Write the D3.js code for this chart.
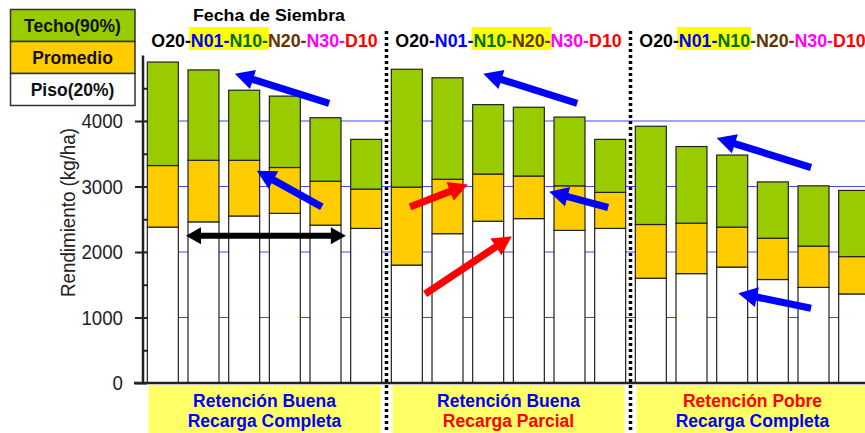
<!DOCTYPE html>
<html>
<head>
<meta charset="utf-8">
<script src="https://cdn.jsdelivr.net/npm/d3@7"></script>
<style>
body { margin: 0; background: #fff; overflow: hidden; }
svg { display: block; font-family: "Liberation Sans", Arial, sans-serif; }
</style>
</head>
<body>
<svg id="chart" width="865" height="433"></svg>
<script>
// fechas de siembra, repeated in the three scenarios
const fechas = ['O20', 'N01', 'N10', 'N20', 'N30', 'D10'];
const fechaColors = ['#000000', '#0000ff', '#007000', '#663300', '#ff00ff', '#ff0000'];

// rendimiento (kg/ha) per bar, 3 groups x 6 dates
const piso = [2380, 2460, 2550, 2590, 2410, 2360,
              1800, 2280, 2470, 2510, 2330, 2360,
              1600, 1670, 1770, 1580, 1460, 1360];
const promedio = [3320, 3400, 3400, 3290, 3080, 2960,
                  2990, 3110, 3190, 3160, 3010, 2910,
                  2420, 2440, 2380, 2210, 2090, 1930];
const techo = [4900, 4780, 4470, 4380, 4050, 3720,
               4790, 4660, 4250, 4210, 4060, 3720,
               3920, 3610, 3480, 3070, 3010, 2940];

const series = ['Techo(90%)', 'Promedio', 'Piso(20%)'];
const seriesColors = ['#99cc00', '#ffcc00', '#ffffff'];

const yTicks = [0, 1000, 2000, 3000, 4000];
const yMinor = [500, 1500, 2500, 3500, 4500];
const gridVals = [1000, 2000, 3000, 4000];

// highlighted dates in the header: [first, last, include trailing dash]
const highlights = [[1, 2, true], [2, 3, true], [1, 2, false]];

const groupLabels = [['Retención Buena', 'Recarga Completa'],
                     ['Retención Buena', 'Recarga Parcial'],
                     ['Retención Pobre', 'Recarga Completa']];
const groupLabelColors = [['#0000ff', '#0000ff'],
                          ['#0000ff', '#ff0000'],
                          ['#ff0000', '#0000ff']];

// annotation arrows in (slot, kg/ha) units
const arrows = [
    {from: [4.59, 4270], to: [2.27, 4720], color: '#0000ff'},
    {from: [4.41, 2690], to: [2.81, 3240], color: '#0000ff'},
    {from: [1.07, 2250], to: [5.00, 2250], color: '#000000', both: true},
    {from: [10.69, 4270], to: [8.38, 4720], color: '#0000ff'},
    {from: [6.58, 2690], to: [8.00, 3030], color: '#ff0000'},
    {from: [6.95, 1360], to: [9.08, 2240], color: '#ff0000'},
    {from: [11.45, 2680], to: [10.00, 2920], color: '#0000ff'},
    {from: [16.44, 3290], to: [14.12, 3740], color: '#0000ff'},
    {from: [16.44, 1140], to: [14.65, 1370], color: '#0000ff'}
];

const nBars = piso.length;
const x0 = 142.5, x1 = 874.5, yBase = 383, yTop = 55.5, axisX = 143;

const svg = d3.select('#chart');

const x = d3.scaleBand().domain(d3.range(nBars)).range([x0, x1])
    .paddingInner(0.238).paddingOuter(0.119);
const xU = d3.scaleLinear().domain([0, nBars]).range([x0, x1]);
const y = d3.scaleLinear().domain([0, 5000]).range([yBase, yTop]);

// grid
svg.append('g').selectAll('line').data(gridVals).join('line')
    .attr('x1', axisX).attr('x2', 865)
    .attr('y1', d => y(d)).attr('y2', d => y(d))
    .attr('stroke', '#4545ff').attr('stroke-width', 1);

// stacked bars
const stacks = d3.range(nBars).map(i => [
    {lo: 0, hi: piso[i], c: seriesColors[2]},
    {lo: piso[i], hi: promedio[i], c: seriesColors[1]},
    {lo: promedio[i], hi: techo[i], c: seriesColors[0]}
]);
svg.append('g').selectAll('g').data(stacks).join('g')
    .attr('transform', (d, i) => `translate(${x(i)},0)`)
    .selectAll('rect').data(d => d).join('rect')
    .attr('x', 0).attr('width', x.bandwidth())
    .attr('y', d => y(d.hi)).attr('height', d => y(d.lo) - y(d.hi))
    .attr('fill', d => d.c).attr('stroke', '#222').attr('stroke-width', 1.2);

// y axis
const yAx = svg.append('g').attr('transform', `translate(${axisX},0)`)
    .call(d3.axisLeft(y).tickValues(yTicks).tickFormat(d3.format('d'))
        .tickSize(8).tickPadding(12).tickSizeOuter(0));
yAx.select('.domain').remove();
yAx.selectAll('.tick line').attr('x1', 4).attr('stroke', '#222').attr('stroke-width', 2);
yAx.selectAll('.tick text')
    .attr('font-size', 21).attr('fill', '#222')
    .attr('font-family', '"Liberation Sans", Arial, sans-serif')
    .attr('textLength', d => String(d).length * 10.4)
    .attr('lengthAdjust', 'spacingAndGlyphs');
const yMin = svg.append('g').attr('transform', `translate(${axisX},0)`)
    .call(d3.axisRight(y).tickValues(yMinor).tickSize(5).tickFormat(''));
yMin.select('.domain').remove();
yMin.selectAll('.tick line').attr('stroke', '#222').attr('stroke-width', 2);

svg.append('line').attr('x1', axisX).attr('x2', axisX)
    .attr('y1', y(5000)).attr('y2', yBase + 1)
    .attr('stroke', '#222').attr('stroke-width', 2.5);
svg.append('line').attr('x1', 134).attr('x2', 865)
    .attr('y1', yBase).attr('y2', yBase)
    .attr('stroke', '#222').attr('stroke-width', 2.5);

svg.append('text')
    .attr('transform', 'translate(74.5,212.5) rotate(-90)')
    .attr('text-anchor', 'middle').attr('font-size', 21).attr('fill', '#222')
    .attr('textLength', 169).attr('lengthAdjust', 'spacingAndGlyphs')
    .text('Rendimiento (kg/ha)');

// group separators
svg.append('g').selectAll('line').data([6, 12]).join('line')
    .attr('x1', d => xU(d)).attr('x2', d => xU(d))
    .attr('y1', 31).attr('y2', 433)
    .attr('stroke', '#000').attr('stroke-width', 3.5)
    .attr('stroke-dasharray', '3 3');

// bottom labels
const groupIdx = [0, 1, 2];
const bottom = svg.append('g').selectAll('g').data(groupIdx).join('g');
bottom.append('rect')
    .attr('x', g => xU(g * 6) + 6).attr('width', g => xU(g * 6 + 6) - xU(g * 6) - 12)
    .attr('y', 385).attr('height', 50).attr('fill', '#ffff66');
[406.7, 427.3].forEach((by, line) => {
    bottom.append('text')
        .attr('x', g => xU(g * 6 + 3)).attr('y', by)
        .attr('text-anchor', 'middle').attr('font-size', 17.5).attr('font-weight', 'bold')
        .attr('fill', g => groupLabelColors[g][line])
        .text(g => groupLabels[g][line]);
});

// header
svg.append('text').attr('x', 269).attr('y', 20.7)
    .attr('text-anchor', 'middle').attr('font-size', 16).attr('font-weight', 'bold')
    .attr('textLength', 152).attr('lengthAdjust', 'spacingAndGlyphs')
    .text('Fecha de Siembra');

const hlLayer = svg.append('g');
groupIdx.forEach(g => {
    const t = svg.append('text')
        .attr('x', xU(g * 6 + 3)).attr('y', 47)
        .attr('text-anchor', 'middle').attr('font-size', 17.8).attr('font-weight', 'bold');
    fechas.forEach((f, i) => {
        t.append('tspan').attr('fill', fechaColors[i])
            .text(i < fechas.length - 1 ? f + '-' : f);
    });
    const [a, b, dash] = highlights[g];
    const node = t.node();
    const sx = node.getStartPositionOfChar(a * 4).x;
    const ex = node.getEndPositionOfChar(b * 4 + (dash ? 3 : 2)).x;
    hlLayer.append('rect').attr('x', sx - 2).attr('width', ex - sx + 3)
        .attr('y', 27).attr('height', 23).attr('fill', '#ffff00');
});

// legend
const legend = svg.append('g').attr('transform', 'translate(10.5,9.5)');
legend.selectAll('rect').data(series).join('rect')
    .attr('x', 0).attr('y', (d, i) => i * 32)
    .attr('width', 124.5).attr('height', 32)
    .attr('fill', (d, i) => seriesColors[i])
    .attr('stroke', '#333').attr('stroke-width', 1.5);
legend.selectAll('text').data(series).join('text')
    .attr('x', 62).attr('y', (d, i) => i * 32 + 22)
    .attr('text-anchor', 'middle').attr('font-size', 17.5).attr('font-weight', 'bold')
    .attr('fill', '#111')
    .text(d => d);

// arrows
const arrowPts = (T, P, sw, hl, hw, both) => {
    const dx = P[0] - T[0], dy = P[1] - T[1], L = Math.hypot(dx, dy);
    const ux = dx / L, uy = dy / L, nx = -uy, ny = ux;
    const pt = (p, along, side) => [p[0] + ux * along + nx * side, p[1] + uy * along + ny * side];
    const pts = [];
    if (both) {
        pts.push(T, pt(T, hl, hw), pt(T, hl, sw));
    } else {
        pts.push(pt(T, 0, sw));
    }
    pts.push(pt(P, -hl, sw), pt(P, -hl, hw), P, pt(P, -hl, -hw), pt(P, -hl, -sw));
    if (both) {
        pts.push(pt(T, hl, -sw), pt(T, hl, -hw));
    } else {
        pts.push(pt(T, 0, -sw));
    }
    return pts;
};
svg.append('g').selectAll('polygon').data(arrows).join('polygon')
    .attr('points', d => {
        const T = [xU(d.from[0]), y(d.from[1])];
        const P = [xU(d.to[0]), y(d.to[1])];
        const pts = d.both ? arrowPts(T, P, 3, 15, 8.5, true) : arrowPts(T, P, 3.6, 19, 10, false);
        return pts.map(p => p.join(',')).join(' ');
    })
    .attr('fill', d => d.color);
</script>
</body>
</html>
